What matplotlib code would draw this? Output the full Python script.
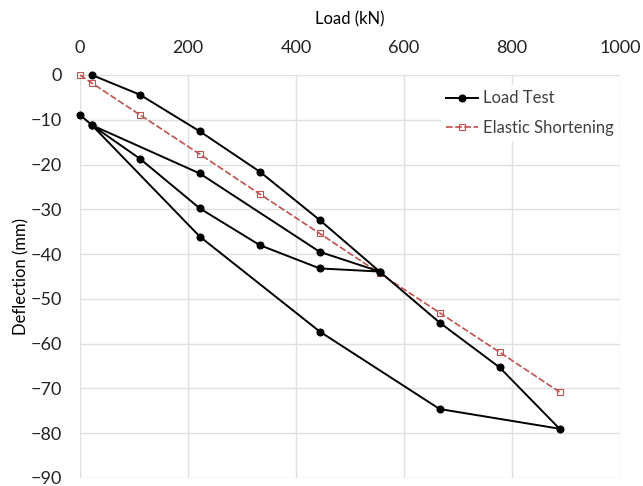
#!/usr/bin/env python3
"""pile load test vs elastic shortening"""

import matplotlib

matplotlib.use("Agg")
import matplotlib.pyplot as plt

# load test path (kN, mm), load -> unload -> reload -> unload
test_load = [22, 111, 222, 333, 444, 555, 444, 333, 222, 111, 22,
             222, 444, 555, 666, 777, 888, 666, 444, 222, 22, 0]
test_defl = [0, -4.4, -12.6, -21.6, -32.4, -43.9, -43.2, -38.0, -29.8, -18.7, -11.2,
             -22.0, -39.5, -43.9, -55.3, -65.3, -79.0, -74.6, -57.3, -36.1, -11.2, -8.9]

# elastic shortening
el_load = [0, 22, 111, 222, 333, 444, 555, 666, 777, 888]
el_defl = [0, -1.8, -8.9, -17.7, -26.6, -35.4, -44.3, -53.1, -61.9, -70.8]

x_ticks = [0, 200, 400, 600, 800, 1000]
y_ticks = [0, -10, -20, -30, -40, -50, -60, -70, -80, -90]


def main() -> None:
    plt.rcParams["font.family"] = ["Lato", "DejaVu Sans"]
    fig = plt.figure(figsize=(6.43, 4.86), dpi=100)
    ax = fig.add_axes([0.1244, 0.0165, 0.8398, 0.8292])

    ax.plot(test_load, test_defl, color="black", lw=1.4, marker="o", ms=4.8,
            label="Load Test", zorder=3, clip_on=False)
    ax.plot(el_load, el_defl, color="#c0504d", lw=1.2, ls=(0, (4, 1.5)),
            marker="s", ms=4, mfc="none", mew=0.8, label="Elastic Shortening",
            zorder=2, clip_on=False)

    ax.set_xlim(0, 1000)
    ax.set_ylim(-90, 0)
    ax.set_xticks(x_ticks)
    ax.set_yticks(y_ticks)
    ax.xaxis.tick_top()
    ax.xaxis.set_label_position("top")
    ax.tick_params(length=0, labelsize=13, colors="#222222")
    ax.tick_params(axis="x", pad=14)
    ax.tick_params(axis="y", pad=13)
    ax.set_xlabel("Load (kN)", fontsize=12, labelpad=11)
    ax.set_ylabel("Deflection (mm)", fontsize=12, labelpad=1)

    ax.grid(True, color="#e0e0e0", lw=1)
    ax.set_axisbelow(True)
    for s in ax.spines.values():
        s.set_visible(False)

    leg = ax.legend(loc="upper right", bbox_to_anchor=(1.013, 0.995), frameon=True,
                    fontsize=12, handlelength=1.9, handletextpad=0.3,
                    labelspacing=0.8, borderpad=0.3)
    leg.get_frame().set_edgecolor("none")
    leg.get_frame().set_facecolor("white")
    leg.get_frame().set_alpha(1)
    for t in leg.get_texts():
        t.set_color("#404040")

    fig.savefig("out.png", dpi=100)


if __name__ == "__main__":
    main()
